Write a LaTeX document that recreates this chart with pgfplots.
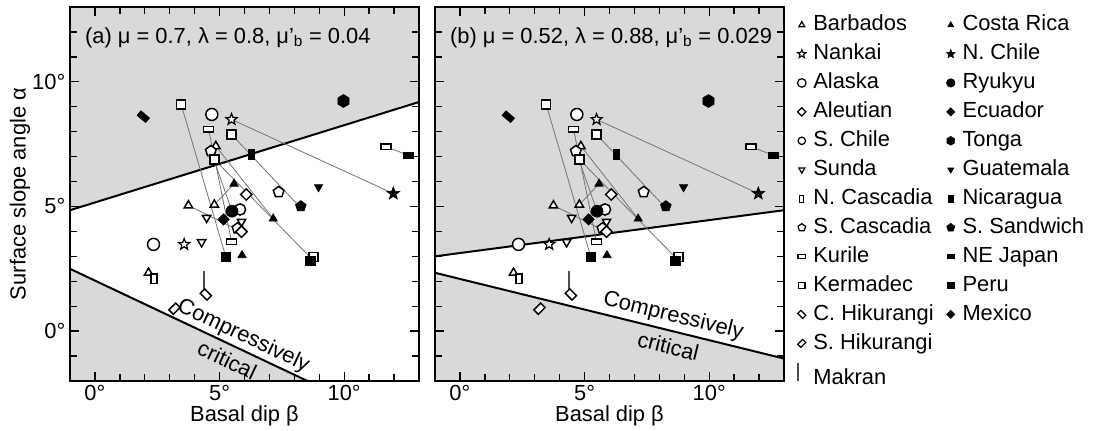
\documentclass[border=0pt]{standalone}
\usepackage{pgfplots}
\pgfplotsset{compat=1.18}
\usepackage{fontspec}
\setmainfont{Liberation Sans}

\pgfdeclareplotmark{hexagon}{%
  \pgfpathmoveto{\pgfpointpolar{90}{\pgfplotmarksize}}%
  \pgfpathlineto{\pgfpointpolar{150}{\pgfplotmarksize}}%
  \pgfpathlineto{\pgfpointpolar{210}{\pgfplotmarksize}}%
  \pgfpathlineto{\pgfpointpolar{270}{\pgfplotmarksize}}%
  \pgfpathlineto{\pgfpointpolar{330}{\pgfplotmarksize}}%
  \pgfpathlineto{\pgfpointpolar{30}{\pgfplotmarksize}}%
  \pgfpathclose
  \pgfusepathqfillstroke}
\pgfdeclareplotmark{pstar}{%
  \pgfpathmoveto{\pgfpointpolar{90}{\pgfplotmarksize}}%
  \pgfpathlineto{\pgfpointpolar{126}{0.42\pgfplotmarksize}}%
  \pgfpathlineto{\pgfpointpolar{162}{\pgfplotmarksize}}%
  \pgfpathlineto{\pgfpointpolar{198}{0.42\pgfplotmarksize}}%
  \pgfpathlineto{\pgfpointpolar{234}{\pgfplotmarksize}}%
  \pgfpathlineto{\pgfpointpolar{270}{0.42\pgfplotmarksize}}%
  \pgfpathlineto{\pgfpointpolar{306}{\pgfplotmarksize}}%
  \pgfpathlineto{\pgfpointpolar{342}{0.42\pgfplotmarksize}}%
  \pgfpathlineto{\pgfpointpolar{18}{\pgfplotmarksize}}%
  \pgfpathlineto{\pgfpointpolar{54}{0.42\pgfplotmarksize}}%
  \pgfpathclose
  \pgfusepathqfillstroke}

\newcommand{\bigfont}{\fontsize{16.4pt}{19.5pt}\selectfont}

\pgfplotsset{
  openm/.style={only marks, forget plot, mark options={draw=black, fill=white, line width=1.1pt, solid, #1}},
  openm/.default={},
  fillm/.style={only marks, forget plot, mark options={draw=black, fill=black, line width=0.5pt, solid, #1}},
  fillm/.default={},
  conn/.style={draw=black!55, line width=0.6pt, forget plot, mark=none},
  bound/.style={draw=black, line width=1.5pt, forget plot, mark=none},
  shade/.style={fill=black!15, draw=none, forget plot, mark=none},
  panel/.style={
    scale only axis, width=261.75pt, height=280.5pt,
    xmin=-1, xmax=13, ymin=-2, ymax=13,
    xtick={0,5,10}, ytick={0,5,10},
    minor xtick={-1,0,...,13}, minor ytick={-2,-1,...,13},
    xticklabel={\pgfmathprintnumber[assume math mode=true]{\tick}°},
    yticklabel={\pgfmathprintnumber[assume math mode=true]{\tick}°},
    tick style={black, line width=1pt},
    major tick length=7pt, minor tick length=5pt,
    axis line style={line width=1.5pt},
    axis on top,
    clip=true,
    ticklabel style={font=\bigfont},
    label style={font=\bigfont},
    xlabel={Basal dip β},
    xlabel style={at={(axis description cs:0.5,-0.094)}, anchor=center},
  },
}

\newcommand{\connlines}{%
  \addplot[conn] coordinates {(3.46,9.09) (5.25,2.98)};
  \addplot[conn] coordinates {(4.56,8.09) (5.48,3.59)};
  \addplot[conn] coordinates {(4.85,7.42) (7.15,4.51)};
  \addplot[conn] coordinates {(4.79,6.89) (8.70,2.90)};
  \addplot[conn] coordinates {(5.48,8.49) (11.97,5.52)};
  \addplot[conn] coordinates {(5.48,7.89) (8.20,5.00)};
  \addplot[conn] coordinates {(11.67,7.40) (12.58,7.05)};
  \addplot[conn] coordinates {(4.79,5.07) (5.58,5.91)};
  \addplot[conn] coordinates {(3.75,5.04) (5.88,3.99)};
  \addplot[conn] coordinates {(4.65,7.22) (5.50,4.81)};
}

\newcommand{\datamarks}{%
  % Makran (vertical bar)
  \addplot[draw=black!70, line width=1pt, forget plot, mark=none] coordinates {(4.38,1.70) (4.38,2.40)};
  % Barbados
  \addplot[openm, mark=triangle*, mark size=3.6pt] coordinates {(4.85,7.42) (3.75,5.04) (4.79,5.07) (2.15,2.34)};
  % Nankai
  \addplot[openm={line width=0.9pt}, mark=pstar, mark size=4.4pt] coordinates {(5.48,8.49) (3.58,3.48)};
  % Alaska
  \addplot[openm, mark=*, mark size=4.5pt] coordinates {(4.69,8.69) (2.35,3.48)};
  % S. Chile
  \addplot[openm, mark=*, mark size=4.2pt] coordinates {(5.82,4.88)};
  % Sunda
  \addplot[openm={rotate=180}, mark=triangle*, mark size=3.6pt] coordinates {(4.48,4.55) (5.88,4.39) (4.28,3.57)};
  % S. Cascadia
  \addplot[openm, mark=pentagon*, mark size=4.2pt] coordinates {(4.65,7.22) (5.72,4.12) (7.37,5.58)};
  % Aleutian
  \addplot[openm={rotate=45}, mark=square*, mark size=3pt] coordinates {(6.07,5.48) (5.88,3.99)};
  % N. Cascadia
  \addplot[openm={xscale=0.6}, mark=square*, mark size=3.5pt] coordinates {(2.37,2.10)};
  % Kurile
  \addplot[openm={yscale=0.55}, mark=square*, mark size=3.7pt] coordinates {(4.56,8.09) (5.48,3.59) (11.67,7.40)};
  % Kermadec
  \addplot[openm, mark=square*, mark size=3.4pt] coordinates {(3.46,9.09) (5.48,7.89) (4.79,6.89) (8.77,2.98)};
  % C. Hikurangi
  \addplot[openm={rotate=45, xscale=0.65}, mark=square*, mark size=3.6pt] coordinates {(4.45,1.47)};
  % S. Hikurangi
  \addplot[openm={rotate=-45, xscale=0.65}, mark=square*, mark size=3.6pt] coordinates {(3.19,0.90)};
  % Costa Rica
  \addplot[fillm, mark=triangle*, mark size=3.6pt] coordinates {(5.58,5.91) (7.15,4.51) (5.90,3.04)};
  % N. Chile
  \addplot[fillm, mark=pstar, mark size=5pt] coordinates {(11.97,5.52)};
  % Ryukyu
  \addplot[fillm, mark=*, mark size=4.5pt] coordinates {(5.50,4.81)};
  % Ecuador
  \addplot[fillm={rotate=45}, mark=square*, mark size=3pt] coordinates {(5.16,4.48)};
  % Tonga
  \addplot[fillm, mark=hexagon, mark size=4.8pt] coordinates {(9.97,9.23)};
  % Guatemala
  \addplot[fillm={rotate=180}, mark=triangle*, mark size=3.6pt] coordinates {(8.97,5.78)};
  % Nicaragua
  \addplot[fillm={xscale=0.55}, mark=square*, mark size=3.7pt] coordinates {(6.28,7.09)};
  % S. Sandwich
  \addplot[fillm, mark=pentagon*, mark size=4.2pt] coordinates {(8.26,5.01)};
  % NE Japan
  \addplot[fillm={yscale=0.55}, mark=square*, mark size=3.7pt] coordinates {(12.58,7.05)};
  % Peru
  \addplot[fillm, mark=square*, mark size=3.4pt] coordinates {(5.25,2.98) (8.64,2.81)};
  % Mexico
  \addplot[fillm={rotate=-40, xscale=1.5, yscale=0.8}, mark=square*, mark size=2.8pt] coordinates {(1.94,8.60)};
}

\begin{document}
\begin{tikzpicture}[font=\bigfont]
\path[use as bounding box] (0,0) rectangle (824.25pt,322.5pt);

% Panel (a)
\begin{axis}[panel, at={(52.5pt,36.75pt)}, anchor=south west,
  ylabel={Surface slope angle α},
  ylabel style={at={(axis description cs:-0.143,0.5)}, anchor=center}]
  \addplot[shade] coordinates {(-1,4.85) (13,9.19) (13,13) (-1,13)} -- cycle;
  \addplot[shade] coordinates {(-1,2.5) (8.53,-2) (-1,-2)} -- cycle;
  \addplot[bound] coordinates {(-1,4.85) (13,9.19)};
  \addplot[bound] coordinates {(-1,2.5) (8.53,-2)};
  \connlines
  \datamarks
  \node[anchor=base west, font=\bigfont] at (axis description cs:0.03,0.903) {(a) μ = 0.7, λ = 0.8, μ'\textsubscript{b} = 0.04};
  \node[rotate=-25.3, font=\bigfont, inner sep=0pt] at (axis cs:5.95,-0.2) {Compressively};
  \node[rotate=-25.3, font=\bigfont, inner sep=0pt] at (axis cs:5.31,-1.15) {critical};
\end{axis}

% Panel (b)
\begin{axis}[panel, at={(326.25pt,36.75pt)}, anchor=south west,
  yticklabels={},
  legend style={draw=none, fill=none, inner sep=0pt, outer sep=0pt,
    at={(axis description cs:1,1)}, anchor=north west,
    xshift=10pt, yshift=-5.8pt,
    font=\bigfont,
    nodes={font=\bigfont, inner sep=0pt, text height=12pt, text depth=3.5pt},
    legend cell align=left, row sep=6.2pt,
    /tikz/every odd column/.append style={column sep=5.5pt},
    /tikz/every even column/.append style={column sep=4.25pt}},
  legend columns=2]
  \addplot[shade] coordinates {(-1,3.0) (13,4.85) (13,13) (-1,13)} -- cycle;
  \addplot[shade] coordinates {(-1,2.34) (13,-1.1) (13,-2) (-1,-2)} -- cycle;
  \addplot[bound] coordinates {(-1,3.0) (13,4.85)};
  \addplot[bound] coordinates {(-1,2.34) (13,-1.1)};
  \connlines
  \datamarks
  \node[anchor=base west, font=\bigfont] at (axis description cs:0.03,0.903) {(b) μ = 0.52, λ = 0.88, μ'\textsubscript{b} = 0.029};
  \node[rotate=-13.8, font=\bigfont, inner sep=0pt] at (axis cs:8.56,0.6) {Compressively};
  \node[rotate=-13.8, font=\bigfont, inner sep=0pt] at (axis cs:8.36,-0.6) {critical};

  \addlegendimage{only marks, mark=triangle*, mark size=2.6pt, mark options={draw=black, fill=white, line width=0.9pt}}
  \addlegendentry{Barbados}
  \addlegendimage{only marks, mark=triangle*, mark size=2.6pt, mark options={draw=black, fill=black}}
  \addlegendentry{Costa Rica}
  \addlegendimage{only marks, mark=pstar, mark size=3.3pt, mark options={draw=black, fill=white, line width=0.8pt}}
  \addlegendentry{Nankai}
  \addlegendimage{only marks, mark=pstar, mark size=3.5pt, mark options={draw=black, fill=black}}
  \addlegendentry{N. Chile}
  \addlegendimage{only marks, mark=*, mark size=3.2pt, mark options={draw=black, fill=white, line width=0.9pt}}
  \addlegendentry{Alaska}
  \addlegendimage{only marks, mark=*, mark size=3.2pt, mark options={draw=black, fill=black}}
  \addlegendentry{Ryukyu}
  \addlegendimage{only marks, mark=square*, mark size=2.2pt, mark options={draw=black, fill=white, line width=0.9pt, rotate=45}}
  \addlegendentry{Aleutian}
  \addlegendimage{only marks, mark=square*, mark size=2.2pt, mark options={draw=black, fill=black, rotate=45}}
  \addlegendentry{Ecuador}
  \addlegendimage{only marks, mark=*, mark size=2.8pt, mark options={draw=black, fill=white, line width=0.9pt}}
  \addlegendentry{S. Chile}
  \addlegendimage{only marks, mark=hexagon, mark size=3.3pt, mark options={draw=black, fill=black}}
  \addlegendentry{Tonga}
  \addlegendimage{only marks, mark=triangle*, mark size=2.6pt, mark options={draw=black, fill=white, line width=0.9pt, rotate=180}}
  \addlegendentry{Sunda}
  \addlegendimage{only marks, mark=triangle*, mark size=2.6pt, mark options={draw=black, fill=black, rotate=180}}
  \addlegendentry{Guatemala}
  \addlegendimage{only marks, mark=square*, mark size=2.6pt, mark options={draw=black, fill=white, line width=0.9pt, xscale=0.6}}
  \addlegendentry{N. Cascadia}
  \addlegendimage{only marks, mark=square*, mark size=2.8pt, mark options={draw=black, fill=black, xscale=0.55}}
  \addlegendentry{Nicaragua}
  \addlegendimage{only marks, mark=pentagon*, mark size=3pt, mark options={draw=black, fill=white, line width=0.9pt}}
  \addlegendentry{S. Cascadia}
  \addlegendimage{only marks, mark=pentagon*, mark size=3.2pt, mark options={draw=black, fill=black}}
  \addlegendentry{S. Sandwich}
  \addlegendimage{only marks, mark=square*, mark size=2.8pt, mark options={draw=black, fill=white, line width=0.9pt, yscale=0.55}}
  \addlegendentry{Kurile}
  \addlegendimage{only marks, mark=square*, mark size=2.8pt, mark options={draw=black, fill=black, yscale=0.55}}
  \addlegendentry{NE Japan}
  \addlegendimage{only marks, mark=square*, mark size=2.4pt, mark options={draw=black, fill=white, line width=0.9pt}}
  \addlegendentry{Kermadec}
  \addlegendimage{only marks, mark=square*, mark size=2.4pt, mark options={draw=black, fill=black}}
  \addlegendentry{Peru}
  \addlegendimage{only marks, mark=square*, mark size=2.6pt, mark options={draw=black, fill=white, line width=0.9pt, rotate=45, xscale=0.65}}
  \addlegendentry{C. Hikurangi}
  \addlegendimage{only marks, mark=square*, mark size=2.2pt, mark options={draw=black, fill=black, rotate=45}}
  \addlegendentry{Mexico}
  \addlegendimage{only marks, mark=square*, mark size=2.6pt, mark options={draw=black, fill=white, line width=0.9pt, rotate=-45, xscale=0.65}}
  \addlegendentry{S. Hikurangi}
  \addlegendimage{empty legend}
  \addlegendentry{}
  \addlegendimage{legend image code/.code={\draw[black!70, line width=1pt] (0.2cm,-2pt) -- (0.2cm,12pt);}}
  \addlegendentry{Makran}
  \addlegendimage{empty legend}
  \addlegendentry{}
\end{axis}
\end{tikzpicture}
\end{document}
